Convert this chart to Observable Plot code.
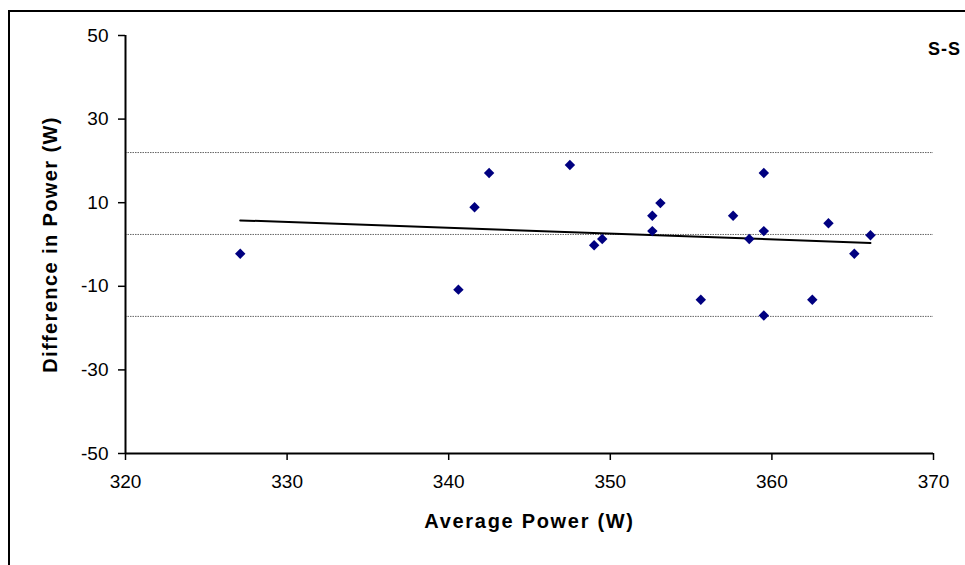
<!DOCTYPE html>
<html><head><meta charset="utf-8">
<script src="https://cdn.jsdelivr.net/npm/d3@7"></script>
<script src="https://cdn.jsdelivr.net/npm/@observablehq/plot@0.6"></script>
<style>
body{margin:0;background:#fff;}
#wrap{position:relative;width:965px;height:565px;overflow:hidden;}
#frame{position:absolute;left:8px;top:10px;width:1000px;height:600px;border-left:2px solid #000;border-top:2px solid #000;pointer-events:none;}
</style></head>
<body><div id="wrap"><div id="frame"></div></div>
<script>
const avgPower  = [327.1, 340.6, 341.6, 342.5, 347.5, 349.0, 349.5, 352.6, 352.6, 353.1, 355.6, 357.6, 358.6, 359.5, 359.5, 359.5, 362.5, 363.5, 365.1, 366.1];
const diffPower = [-2.2, -10.8, 8.9, 17.1, 19.0, -0.2, 1.3, 6.9, 3.2, 9.9, -13.2, 6.9, 1.3, 17.1, 3.2, -17.0, -13.2, 5.1, -2.2, 2.2];
const limitLines = [22.0, 2.4, -17.2];
const xTicks = [320, 330, 340, 350, 360, 370];
const yTicks = [-50, -30, -10, 10, 30, 50];
const xTitle = "Average Power (W)";
const yTitle = "Difference in Power (W)";
const panelLabel = "S-S";

const points = avgPower.map((x, i) => ({x, y: diffPower[i]}));
const font = "'Liberation Sans', Arial, sans-serif";

const chart = Plot.plot({
  width: 965, height: 565,
  marginLeft: 125, marginRight: 32, marginTop: 35, marginBottom: 112,
  style: {fontFamily: font, background: "transparent", color: "#000"},
  x: {domain: [320, 370]},
  y: {domain: [-50, 50]},
  marks: [
    Plot.ruleY(limitLines, {stroke: "#666", strokeWidth: 1, strokeDasharray: "1.5,1"}),
    Plot.linearRegressionY(points, {x: "x", y: "y", stroke: "#000", strokeWidth: 2, ci: 0}),
    Plot.dot(points, {x: "x", y: "y", symbol: "diamond2", r: 4.7, fill: "#000080", stroke: "none"}),
    Plot.ruleX([320], {stroke: "#000", strokeWidth: 2}),
    Plot.ruleY([-50], {stroke: "#000", strokeWidth: 2}),
    Plot.axisX({ticks: xTicks, tickSize: 7, tickPadding: 14, fontSize: 19, strokeWidth: 1.5, tickFormat: d => String(d), label: null}),
    Plot.axisY({ticks: yTicks, tickSize: 7, tickPadding: 10, fontSize: 19, strokeWidth: 1.5, tickFormat: d => String(d), label: null}),
    Plot.text([xTitle], {frameAnchor: "bottom", textAnchor: "middle", dy: 74, fontWeight: "bold", fontSize: 20}),
    Plot.text([yTitle], {frameAnchor: "left", textAnchor: "middle", dx: -75, rotate: -90, fontWeight: "bold", fontSize: 20}),
    Plot.text([panelLabel], {frameAnchor: "top-right", textAnchor: "middle", dx: 11, dy: 7, fontWeight: "bold", fontSize: 18})
  ]
});
// Excel-like wide letter spacing on the titles
d3.select(chart).selectAll("text").each(function() {
  const t = this.textContent;
  if (t === xTitle) this.style.letterSpacing = "1.7px";
  else if (t === yTitle) this.style.letterSpacing = "1.4px";
  else if (t === panelLabel) this.style.letterSpacing = "1px";
});
document.getElementById("wrap").prepend(chart);
</script>
</body></html>
